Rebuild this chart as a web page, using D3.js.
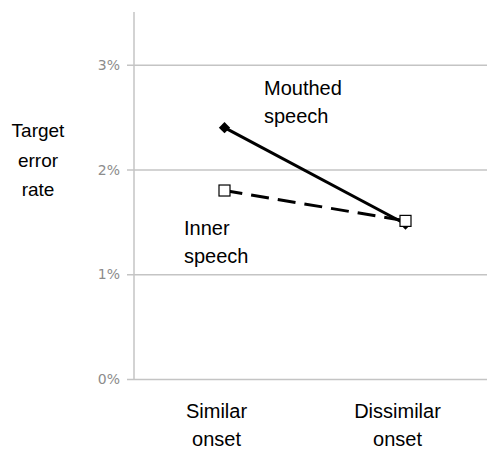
<!DOCTYPE html>
<html>
<head>
<meta charset="utf-8">
<script src="https://cdn.jsdelivr.net/npm/d3@7"></script>
<style>
  body { margin: 0; background: #fff; }
  svg { display: block; }
</style>
</head>
<body>
<div id="chart"></div>
<script>
const categories = [`Similar onset`, `Dissimilar onset`];
const mouthed = [2.4, 1.48];
const inner = [1.8, 1.51];
const yTicks = [0, 1, 2, 3];

const width = 487, height = 452;
const margin = { top: 12, left: 134, bottom: 73 };

const svg = d3.select(`#chart`).append(`svg`)
    .attr(`width`, width)
    .attr(`height`, height);

const x = d3.scaleBand()
  .domain(categories)
  .range([margin.left, margin.left + 362]);

const y = d3.scaleLinear()
  .domain([0, 3.5])
  .range([height - margin.bottom, margin.top + 0.5]);

// gridlines + ticks
const yAxis = d3.axisLeft(y)
  .tickValues(yTicks)
  .tickSize(-(width - margin.left + 10))
  .tickPadding(14)
  .tickFormat((d) => `${d}%`);

const ga = svg.append(`g`)
    .attr(`transform`, `translate(${margin.left},0)`)
    .call(yAxis);
ga.select(`.domain`).remove();
ga.selectAll(`.tick line`)
    .attr(`x1`, -7)
    .attr(`stroke`, `#c4c4c4`)
    .attr(`stroke-width`, 1.5);
ga.selectAll(`.tick text`)
    .attr(`fill`, `#8c8c8c`)
    .style(`font-family`, `"DejaVu Sans", sans-serif`)
    .style(`font-size`, `14px`);

svg.append(`line`)
    .attr(`x1`, margin.left).attr(`x2`, margin.left)
    .attr(`y1`, margin.top).attr(`y2`, y(0))
    .attr(`stroke`, `#c4c4c4`)
    .attr(`stroke-width`, 1.5);

// y title
const ytitle = svg.append(`text`)
    .attr(`text-anchor`, `middle`)
    .style(`font-family`, `"Liberation Sans", Arial, sans-serif`)
    .style(`font-size`, `19px`)
    .attr(`fill`, `#000`);
[`Target`, `error`, `rate`].forEach((t, i) => {
  ytitle.append(`tspan`).attr(`x`, 38).attr(`y`, 137 + i * 29.5).text(t);
});

// category labels
categories.forEach((c) => {
  const words = c.split(` `);
  const t = svg.append(`text`)
      .attr(`text-anchor`, `middle`)
      .style(`font-family`, `"Liberation Sans", Arial, sans-serif`)
      .style(`font-size`, `20px`);
  words.forEach((w, i) => {
    t.append(`tspan`)
      .attr(`x`, x(c) + x.bandwidth() / 2 - 8)
      .attr(`y`, 418 + i * 28)
      .text(w);
  });
});

const cx = (c) => x(c) + x.bandwidth() / 2;
const line = d3.line()
  .x((d, i) => cx(categories[i]))
  .y((d) => y(d));

svg.append(`path`)
    .datum(inner)
    .attr(`d`, line)
    .attr(`fill`, `none`)
    .attr(`stroke`, `#000`)
    .attr(`stroke-width`, 3)
    .attr(`stroke-dasharray`, `18,9`);

svg.append(`path`)
    .datum(mouthed)
    .attr(`d`, line)
    .attr(`fill`, `none`)
    .attr(`stroke`, `#000`)
    .attr(`stroke-width`, 3);

// mouthed markers: diamonds
svg.selectAll(`.diamond`)
    .data(mouthed)
  .enter().append(`path`)
    .attr(`class`, `diamond`)
    .attr(`transform`, (d, i) => `translate(${cx(categories[i])},${y(d)}) rotate(45)`)
    .attr(`d`, `M-4,-4H4V4H-4Z`)
    .attr(`fill`, `#000`);

// inner markers: open squares
svg.selectAll(`.square`)
    .data(inner)
  .enter().append(`rect`)
    .attr(`class`, `square`)
    .attr(`x`, (d, i) => cx(categories[i]) - 5.5)
    .attr(`y`, (d) => y(d) - 5.5)
    .attr(`width`, 11)
    .attr(`height`, 11)
    .attr(`fill`, `#fff`)
    .attr(`stroke`, `#000`)
    .attr(`stroke-width`, 1.2);

// series labels
const lab = (lines, x0, y0) => {
  const t = svg.append(`text`)
      .style(`font-family`, `"Liberation Sans", Arial, sans-serif`)
      .style(`font-size`, `20px`);
  lines.forEach((l, i) => t.append(`tspan`).attr(`x`, x0).attr(`y`, y0 + i * 28).text(l));
};
lab([`Mouthed`, `speech`], 264, 95);
lab([`Inner`, `speech`], 184, 235);
</script>
</body>
</html>
